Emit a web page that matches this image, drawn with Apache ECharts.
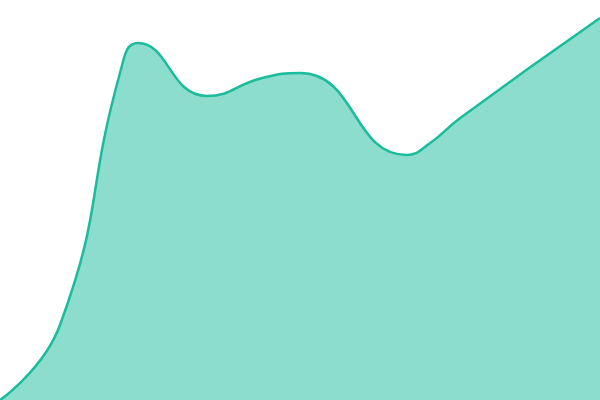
<!DOCTYPE html>
<html>
<head>
<meta charset="utf-8">
<script src="https://cdn.jsdelivr.net/npm/echarts@6/dist/echarts.min.js"></script>
<style>html,body{margin:0;padding:0;background:#fff}#c{width:600px;height:400px}</style>
</head>
<body>
<div id="c"></div>
<script>
// x positions (irregular sampling) and values
const xValues = [0, 10, 20, 23, 34.5, 43.7, 50, 67.8, 71.7, 76.7, 100];
const yValues = [0, 75, 327, 357, 304, 322, 327, 245, 257, 282, 382];
const xMin = 0, xMax = 100;
const yMin = 0, yMax = 400;

const points = xValues.map((x, i) => [x, yValues[i]]);

const chart = echarts.init(document.getElementById('c'));
chart.setOption({
  animation: false,
  grid: { left: 0, right: 0, top: 0, bottom: 0 },
  xAxis: { type: 'value', min: xMin, max: xMax, show: false },
  yAxis: { type: 'value', min: yMin, max: yMax, show: false },
  series: [{
    type: 'line',
    data: points,
    smooth: true,
    symbol: 'none',
    lineStyle: { color: '#1abc9c', width: 2.5 },
    areaStyle: { color: '#1abc9c', opacity: 0.5 }
  }]
});
</script>
</body>
</html>
